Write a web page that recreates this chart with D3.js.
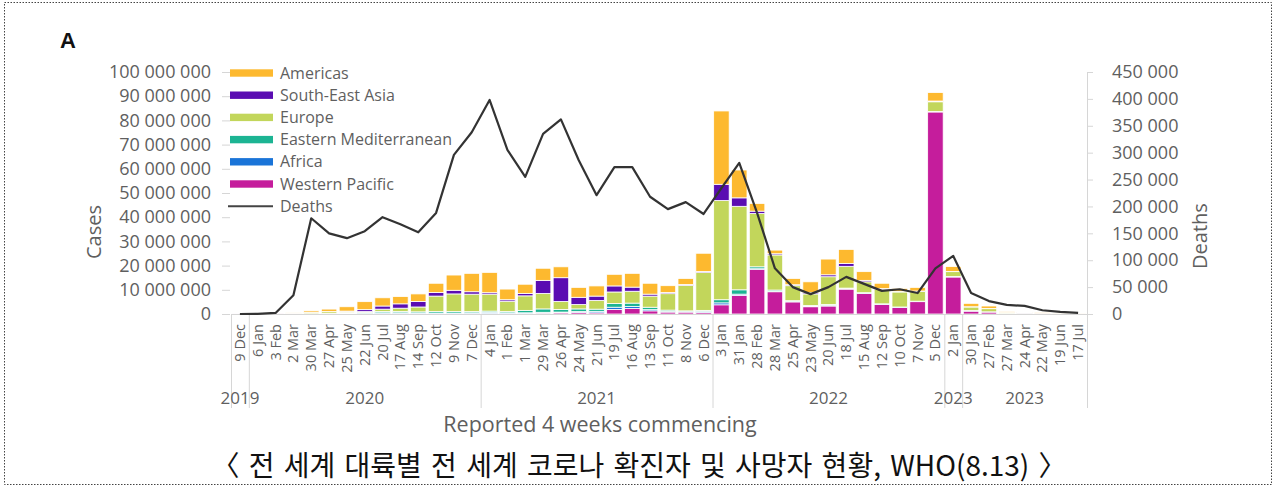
<!DOCTYPE html>
<html><head><meta charset="utf-8">
<script src="https://cdn.jsdelivr.net/npm/d3@7"></script>
<style>body{margin:0;background:#fff} svg{display:block}</style>
</head><body><svg id="c" width="1275" height="487"></svg>
<script>
// ---- data ----
const periods = ["9 Dec","6 Jan","3 Feb","2 Mar","30 Mar","27 Apr","25 May","22 Jun","20 Jul","17 Aug","14 Sep","12 Oct","9 Nov","7 Dec",
  "4 Jan","1 Feb","1 Mar","29 Mar","26 Apr","24 May","21 Jun","19 Jul","16 Aug","13 Sep","11 Oct","8 Nov","6 Dec",
  "3 Jan","31 Jan","28 Feb","28 Mar","25 Apr","23 May","20 Jun","18 Jul","15 Aug","12 Sep","10 Oct","7 Nov","5 Dec",
  "2 Jan","30 Jan","27 Feb","27 Mar","24 Apr","22 May","19 Jun","17 Jul"];
const yearLabels = ["2019","2020","2021","2022","2023","2023"];
const yearSpans = [1,13,13,13,1,7];
// cases, millions
const westernPacific = [0.01,0.01,0.07,0.03,0.05,0.05,0.05,0.05,0.1,0.2,0.2,0.2,0.2,0.2,0.2,0.2,0.3,0.4,0.5,0.6,0.5,1.9,2.3,1.3,0.8,0.8,0.6,3.8,7.7,18.5,9.2,5.0,3.0,3.3,10.3,8.5,4.0,2.7,5.1,83.5,15.3,1.2,0.8,0.3,0.2,0.2,0.1,0.05];
const africa = [0,0,0,0,0.01,0.03,0.1,0.15,0.4,0.3,0.2,0.2,0.2,0.3,0.5,0.3,0.2,0.3,0.3,0.4,0.6,0.9,0.8,0.5,0.2,0.1,0.5,0.8,0.5,0.2,0.2,0.2,0.3,0.2,0.1,0.1,0.1,0.1,0.1,0.1,0.1,0.1,0,0.01,0.01,0,0,0];
const easternMediterranean = [0,0,0,0.05,0.08,0.15,0.3,0.4,0.5,0.5,0.5,0.6,0.6,0.5,0.5,0.5,1.0,1.4,1.1,1.1,0.9,1.5,1.4,1.0,0.6,0.4,0.4,1.3,1.8,0.8,0.5,0.3,0.2,0.4,0.3,0.2,0.1,0.1,0.1,0.1,0.1,0.1,0.1,0.02,0.02,0.01,0.01,0];
const europe = [0,0,0.01,0.3,0.5,0.7,0.4,0.4,1.0,1.4,2.0,6.4,7.3,7.2,7.0,4.3,6.0,6.4,3.3,1.8,3.6,4.8,4.9,4.6,6.8,10.5,15.6,41.0,34.5,22.0,14.5,6.2,4.8,11.5,9.0,4.5,6.0,6.2,4.0,4.0,2.0,1.5,1.3,0.2,0.15,0.1,0.05,0.03];
const southEastAsia = [0,0,0,0.01,0.05,0.1,0.35,0.8,1.3,1.8,2.3,1.5,1.5,1.0,0.6,0.6,1.0,5.4,9.8,3.0,1.8,2.5,1.7,0.8,0.5,0.4,0.5,6.7,3.5,1.0,0.5,0.4,0.5,0.8,1.2,0.6,0.3,0.2,0.2,0.3,0.1,0.1,0.1,0.1,0.1,0.05,0.02,0.01];
const americas = [0,0,0,0.05,0.6,1.0,1.8,3.3,3.4,3.0,3.1,3.8,6.3,7.6,8.4,4.4,3.8,5.0,4.5,4.1,4.2,4.8,5.7,4.5,2.8,2.5,7.5,30.3,11.5,3.2,1.5,2.6,4.5,6.5,5.8,3.6,2.2,1.3,1.5,3.5,2.0,1.4,1.0,0.3,0.2,0.15,0.1,0.05];
const deaths = [0,200,2000,35000,178000,150000,141000,154000,180000,167000,152000,188000,296000,338000,398000,305000,255000,335000,362000,286000,221000,273000,273000,218000,195000,208000,186000,234000,281000,188000,85000,50000,37000,50000,69000,56000,43000,46000,39000,85000,108000,39000,24000,17000,15000,7000,4000,2000];
const caseTicks = [0,10,20,30,40,50,60,70,80,90,100]; // millions
const deathTicks = [0,50000,100000,150000,200000,250000,300000,350000,400000,450000];
const seriesNames = ["Western Pacific","Africa","Eastern Mediterranean","Europe","South-East Asia","Americas"];
const seriesColors = ["#C51D9C","#1A74D8","#1CB493","#C2D65B","#5A0CB2","#FDB92F"];
const legendOrder = ["Americas","South-East Asia","Europe","Eastern Mediterranean","Africa","Western Pacific"];

// ---- layout ----
const svg = d3.select("#c");
const W = 1275, H = 487;
const plotL = 231, plotR = 1087, plotT = 72, plotB = 314;
const font = "'Open Sans', 'Liberation Sans', sans-serif";
const grey = "#5f5f5f";
const fmt = v => d3.format(",")(v).replace(/,/g, " ");

svg.append("rect").attr("x",4.5).attr("y",2.5).attr("width",W-8).attr("height",H-5)
  .attr("fill","none").attr("stroke","#444").attr("stroke-width",1).attr("stroke-dasharray","1.5,1.5");

const slot = d3.scaleBand().domain(d3.range(periods.length)).range([plotL,plotR]).padding(0);
const bw = slot.bandwidth()*0.87;
const yC = d3.scaleLinear().domain([0,100]).range([plotB,plotT]);
const yD = d3.scaleLinear().domain([0,450000]).range([plotB,plotT]);

// stacked bars
const rows = periods.map((p,i)=>({i, "Western Pacific":westernPacific[i], "Africa":africa[i],
  "Eastern Mediterranean":easternMediterranean[i], "Europe":europe[i], "South-East Asia":southEastAsia[i], "Americas":americas[i]}));
const stack = d3.stack().keys(seriesNames)(rows);
const gBars = svg.append("g");
stack.forEach((layer,si)=>{
  gBars.selectAll(null).data(layer).join("rect")
    .attr("x",d=>slot(d.data.i)+(slot.bandwidth()-bw)/2)
    .attr("width",bw)
    .attr("y",d=>yC(d[1]))
    .attr("height",d=>Math.max(0,yC(d[0])-yC(d[1])))
    .attr("fill",seriesColors[si])
    .attr("stroke","#fff").attr("stroke-width",0.8);
});

// x axis baseline & group separators
svg.append("line").attr("x1",plotL).attr("x2",plotR).attr("y1",plotB+0.5).attr("y2",plotB+0.5).attr("stroke","#d6d6d6");
let idx = 0;
const bounds = [0];
yearSpans.forEach(n=>{ idx+=n; bounds.push(idx); });
const bx = k => k < periods.length ? slot(k) : plotR;
bounds.forEach(k=>{
  svg.append("line").attr("x1",bx(k)+0.5).attr("x2",bx(k)+0.5).attr("y1",plotB).attr("y2",408).attr("stroke","#d6d6d6");
});
yearLabels.forEach((t,j)=>{
  svg.append("text").attr("x",(bx(bounds[j])+bx(bounds[j+1]))/2).attr("y",404)
    .attr("text-anchor","middle").attr("font-family",font).attr("font-size",17).attr("fill",grey).text(t);
});
svg.append("g").selectAll("text").data(periods).join("text")
  .attr("transform",(d,i)=>`translate(${slot(i)+slot.bandwidth()/2},324) rotate(-90)`)
  .attr("text-anchor","end").attr("dy","0.35em")
  .attr("font-family",font).attr("font-size",14.5).attr("fill",grey).text(d=>d);

// left axis
const axL = svg.append("g").attr("transform",`translate(${plotL-1},0)`)
  .call(d3.axisLeft(yC).tickValues(caseTicks).tickSize(8).tickPadding(11).tickFormat(v=>fmt(v*1e6)));
axL.select(".domain").remove();
axL.selectAll("line").attr("stroke","#d6d6d6");
axL.selectAll("text").attr("font-family",font).attr("font-size",18).attr("fill",grey);

// right axis
const axR = svg.append("g").attr("transform",`translate(${plotR},0)`)
  .call(d3.axisRight(yD).tickValues(deathTicks).tickSize(6).tickSizeOuter(0).tickPadding(19).tickFormat(fmt));
axR.select(".domain").attr("stroke","#d6d6d6");
axR.selectAll("line").attr("stroke","#d6d6d6");
axR.selectAll("text").attr("font-family",font).attr("font-size",18).attr("fill",grey);

// deaths line
svg.append("path").datum(deaths)
  .attr("d",d3.line().x((d,i)=>slot(i)+slot.bandwidth()/2).y(d=>yD(d)))
  .attr("fill","none").attr("stroke","#333").attr("stroke-width",2.2).attr("stroke-linejoin","round");

// legend
const lg = svg.append("g");
legendOrder.forEach((name,i)=>{
  const y = 73 + i*22.2;
  lg.append("rect").attr("x",230).attr("y",y-3.7).attr("width",43).attr("height",7.4)
    .attr("fill",seriesColors[seriesNames.indexOf(name)]);
  lg.append("text").attr("x",280).attr("y",y).attr("dy","0.35em").attr("font-family",font)
    .attr("font-size",16).attr("fill",grey).text(name);
});
{
  const y = 73 + 6*22.2;
  lg.append("line").attr("x1",228).attr("x2",273).attr("y1",y).attr("y2",y).attr("stroke","#444").attr("stroke-width",2);
  lg.append("text").attr("x",280).attr("y",y).attr("dy","0.35em").attr("font-family",font)
    .attr("font-size",16).attr("fill",grey).text("Deaths");
}

// titles
svg.append("text").attr("x",60).attr("y",48).attr("font-family","'Liberation Sans', Arial, sans-serif")
  .attr("font-weight","bold").attr("font-size",22).attr("fill","#111").text("A");
svg.append("text").attr("transform","translate(101,232) rotate(-90)").attr("text-anchor","middle")
  .attr("font-family",font).attr("font-size",20).attr("fill",grey).text("Cases");
svg.append("text").attr("transform","translate(1207,236) rotate(-90)").attr("text-anchor","middle")
  .attr("font-family",font).attr("font-size",20).attr("fill",grey).text("Deaths");
svg.append("text").attr("x",600).attr("y",432).attr("text-anchor","middle")
  .attr("font-family",font).attr("font-size",21.5).attr("fill",grey).text("Reported 4 weeks commencing");
svg.append("text").attr("x",639).attr("y",476).attr("text-anchor","middle")
  .attr("font-family","'Noto Sans CJK KR', sans-serif").attr("font-size",28).attr("word-spacing",3).attr("fill","#111")
  .text("〈 전 세계 대륙별 전 세계 코로나 확진자 및 사망자 현황, WHO(8.13) 〉");
</script></body></html>
